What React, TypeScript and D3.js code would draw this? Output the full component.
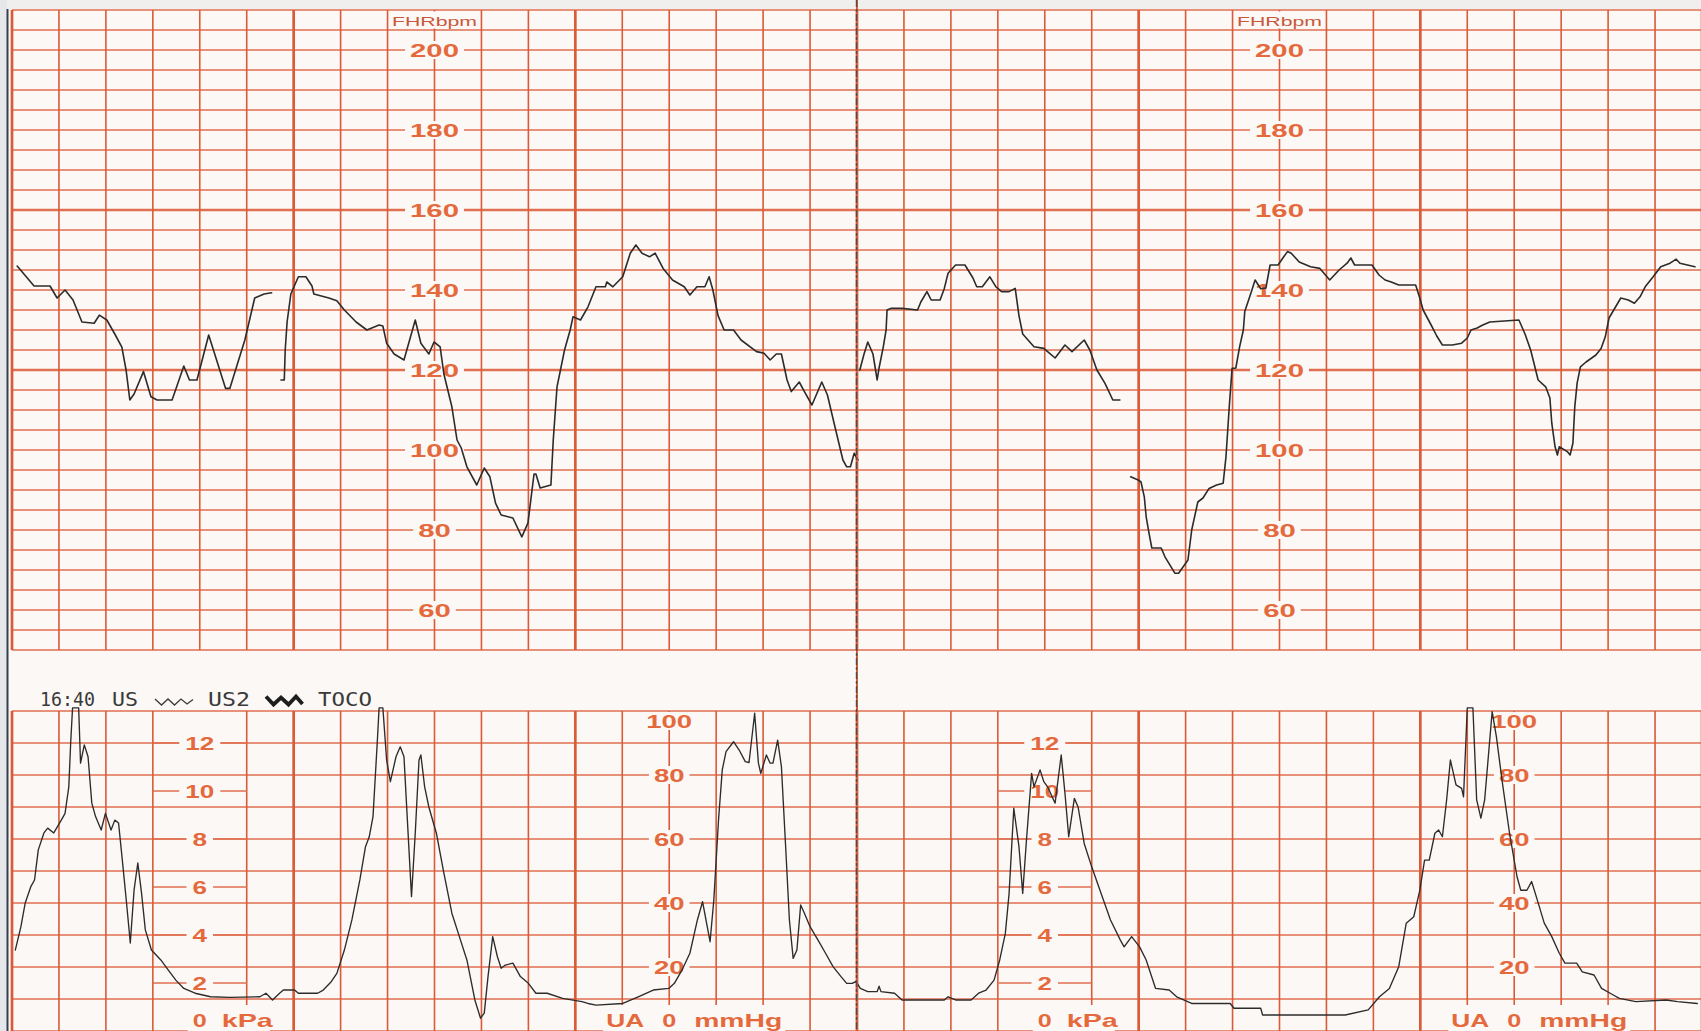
import React from "react";
import * as d3 from "d3";

const W = 1701;
const H = 1031;

// ---- FHR trace (time in seconds, value in bpm); gaps = signal loss ----
const fhrSegment1: [number, number][] = [
  [1.1,146],[4.7,141],[8.1,141],[9.6,138],[11.3,140],[13,137.5],[14.9,132],[17.5,131.7],[18.6,133.7],[20.2,132.5],
  [21.9,129],[23.4,125.7],[24.3,120],[25.1,112.5],[26,114],[28,119.6],[29.6,113.3],[30.9,112.5],[34.1,112.5],[36.6,121],
  [37.8,117.5],[39.4,117.5],[41.9,128.75],[45.5,115.4],[46.4,115.4],[49.6,127.5],[51.7,138],[53.7,139],[55.3,139.3],
];
const fhrSegment2: [number, number][] = [
  [57.3,117.5],[58,117.5],[58.2,125],[58.6,132],[59.4,139],[61,143.3],[62.6,143.3],[63.9,141],[64.3,139],[67.5,138],
  [69.2,137.3],[70.8,135],[73.3,132],[75.6,130],[78.2,131.25],[79,131],[79.8,126.7],[81.4,124],[83.5,122.5],[84.7,127.5],
  [85.9,132.5],[87.1,126.7],[88.8,124],[89.9,127],[91.2,125.8],[92,119],[93.7,110.8],[94.8,102.5],[95.7,100.5],[96.9,95.8],
  [99,91.25],[100.6,95.5],[101.8,93.3],[103,86.7],[104.2,83.75],[106.7,83],[108.6,78.3],[109.9,81.7],[111.2,94],[111.6,94],
  [112.5,90.5],[114.8,91.25],[115.3,102.5],[116.1,115.8],[117.7,125],[118.9,130],[119.5,133.3],[121.1,132.5],[122.7,135.8],[124.4,140.8],
  [126.4,140.8],[126.7,142],[128,140.8],[130.1,143.3],[131.7,149.2],[132.9,151.25],[134.2,149.2],[135.8,148.3],[137,149.2],[138.7,145.4],
  [140.7,142.5],[143.2,140.8],[144.4,138.75],[145.9,140.8],[147.6,140.8],[148.5,143.3],[149.3,140],[150.4,133.6],[151.7,130],[153.7,130],
  [155.3,127.5],[158.6,124.6],[160.2,124.2],[161.5,122.5],[162.8,124],[163.9,124],[165.1,117.5],[166,114.6],[167.7,117],[168.8,114.6],
  [170.4,111.25],[172.5,117],[173.7,113.75],[175.3,105.8],[177,97.5],[177.8,95.8],[178.6,95.8],[179.4,99.2],[180.2,97.5],
];
const fhrSegment3: [number, number][] = [
  [180.6,120],[181.5,124],[182.3,127],[183.4,124],[184.3,117.5],[184.7,120.5],[185.6,125.8],[186.2,130],[186.4,135],[187.2,135.4],
  [189.6,135.4],[192.9,135],[193.6,137],[194.9,139.6],[195.8,137.5],[197.7,137.5],[198.6,140.4],[199.4,144.2],[201,146.25],[203,146.25],
  [204.7,143],[205.5,140.8],[206.7,140.8],[208.3,143.3],[209.6,140.8],[210.8,139.6],[212.4,139.6],[213.7,140.4],[214.5,133.6],[215.3,129],
  [217.7,125.8],[219.8,125.4],[220.6,124.6],[222.2,123],[224.3,126.25],[225.8,124.6],[228.4,127.5],[229.6,125],[231.1,120],[232.8,116.7],
  [234.5,112.5],[236,112.5],
];
const fhrSegment4: [number, number][] = [
  [238.3,93.3],[239.9,92.5],[240.5,92],[241.2,88.3],[241.6,83.3],[242.2,79.2],[242.8,75.5],[244.8,75.5],[245.6,73.3],[246.9,70.8],
  [247.7,69.2],[248.5,69.2],[249.3,70.5],[250.5,72.5],[251.3,80],[252.6,87],[253.7,88],[255,90.4],[256.6,91.25],[258,91.7],
  [258.6,98.3],[259.3,110.8],[259.9,120.4],[260.7,120.5],[261.5,125.8],[262.3,130],[262.6,134.6],[263.9,139.2],[264.8,142.5],[266,140.3],
  [267.1,140.5],[268,146.25],[269.7,146.25],[270.9,148.3],[271.7,149.6],[272.5,149.2],[274.2,147],[276.6,145.8],[278.6,145.4],[280.7,142.5],
  [282.7,145],[284.4,146.7],[285.2,148],[286,146.25],[289.7,146.25],[291.2,143.75],[292.5,142.5],[293.8,142],[295.4,141.25],[299,141.25],
  [299.8,138.3],[300.6,135],[302.3,131.25],[303.5,128.5],[304.7,126.25],[306.8,126.25],[308.8,126.7],[310,128],[310.8,130],[312.1,130.5],
  [313.3,131.25],[314.8,132],[321,132.5],[322.3,129],[323.5,125],[325.1,117.5],[326.7,115.8],[327.6,113],[328,106.7],[328.7,100.8],
  [329.2,98.75],[329.6,100.8],[331.3,99.6],[331.9,98.75],[332.5,101.7],[332.9,110.8],[333.4,116.7],[334.1,120.8],[335.3,122],[337.4,123.75],
  [338.5,125.4],[339.4,128.3],[340.2,133],[342.7,138],[344.3,137.5],[345.6,136.7],[346.8,138.3],[347.9,140.8],[349.6,143.3],[351.2,145.8],
  [353.2,146.7],[354.5,147.7],[355.3,146.7],[358.5,145.8],
];

// ---- TOCO / UA trace (time in seconds, value in mmHg) ----
const tocoTrace: [number, number][] = [
  [0.7,25.3],[1.9,32.6],[2.8,39.9],[4,45.1],[4.8,47.2],[5.6,56.6],[6.8,61.9],[7.6,63.4],[8.9,61.9],[10.5,65.9],
  [11.3,68],[12.1,76.3],[12.5,90],[12.9,101],[14.2,101],[14.6,83.7],[15.4,89.4],[16.2,85.7],[17,71.2],[17.8,67],
  [19,62.8],[19.9,68],[21.1,62.8],[21.9,65.9],[22.7,65],[23.5,53.4],[24.4,40],[25.2,27.5],[26,44],[26.8,52.5],
  [27.6,43],[28.4,31.6],[29.7,25.3],[31.7,22.2],[33.3,19],[34.9,15.9],[36.6,13.3],[39,11.8],[42.3,10.7],[46.4,10.5],
  [52.8,10.7],[54.1,11.8],[55.5,9.7],[57,11.8],[57.8,12.8],[60.2,12.8],[61,11.8],[65.1,11.8],[66.3,12.8],[68,15.4],
  [69.2,18],[70.8,25.3],[72.4,34.7],[74.1,47.2],[75.3,57.6],[76.1,60.7],[76.9,67],[77.8,90],[78.2,101],[79,101],
  [79.8,84.7],[80.6,77.9],[81.8,85.7],[82.7,88.8],[83.5,85.7],[84.3,63.8],[85.1,42],[85.9,61.8],[86.7,84.7],[87.1,86.25],
  [87.9,76.3],[88.8,70],[90.4,61.8],[92,49.3],[93.7,36.8],[95.3,29.5],[96.9,22.2],[98.6,9.7],[99.8,4],[100.6,5.6],
  [101.4,17],[102.4,29.5],[103.4,23.2],[104.2,19.6],[105.1,20.6],[106.7,21.2],[108.3,17],[110,14.9],[111.6,11.8],[114,11.8],
  [117.3,10.2],[121.4,9.2],[122.7,8.6],[124.4,8.1],[130.1,8.6],[133.4,10.7],[136.6,12.8],[139.9,13.3],[141.1,14.9],[142.7,19],
  [144.4,24.3],[146,34.7],[147.1,40.4],[148.1,32.6],[148.7,27.9],[149.5,40.9],[150.5,65.9],[151.3,81.6],[152.1,87.3],[153.7,90.4],
  [154.9,87.8],[156.2,84.2],[157,83.9],[158.2,99.3],[159,83.7],[159.5,80.5],[160.7,86.25],[161.5,83.7],[162.1,83.7],[163.1,90.9],
  [163.9,82.6],[164.8,57.6],[165.6,34.7],[166.4,22.7],[167.2,25.3],[168,39.4],[168.8,36.8],[170,32.6],[171.7,28.4],[173.3,24.3],
  [174.9,20.1],[176.6,17],[177.8,14.9],[179,14.9],[179.8,15.5],[180.7,13.3],[182.3,12.3],[184.3,12.3],[184.7,14],[185.1,12.3],
  [188,11.8],[189.6,9.7],[198.6,9.7],[199.4,10.7],[201,9.7],[204.3,9.7],[205.9,11.8],[207.5,12.8],[209.2,15.9],[210.4,22.2],
  [211.6,30.5],[212.4,43],[213.4,69.6],[214.5,57.6],[215.3,43],[216.1,59.7],[217.2,80.5],[217.7,76.3],[219,81.6],[219.8,77.9],
  [220.6,76.3],[222.2,71.2],[223.5,86.25],[224.3,74.3],[225.1,60.7],[226.3,72.7],[227.1,70],[228.4,58.6],[230,51.3],[232,43],
  [234,34.7],[236.1,28.4],[236.9,26.3],[238.5,29.5],[240.2,26.3],[241.6,22.2],[243.6,13.3],[246.5,12.8],[248.1,10.7],[251.3,8.6],
  [259.5,8.6],[260.3,7.1],[266,7.1],[266.4,5],[284,5],[288.9,6.6],[291.3,10.7],[293.4,13.3],[295.4,20.1],[297,33.7],
  [298.6,35.7],[299.9,44],[300.9,53.4],[301.9,53.4],[303.1,61.8],[303.9,62.8],[304.7,60.7],[305.6,72.2],[306.4,84.7],[307.6,76.9],
  [308.8,75.8],[309.2,73.2],[310,101],[311.2,101],[312,72.2],[312.9,66.5],[313.7,72.2],[315.3,99.8],[316.2,92],[317.4,78.4],
  [319,61.8],[320.6,48.2],[321.4,44],[322.7,44],[323.7,46.7],[324.7,42],[326.4,33.7],[328,29.5],[329.6,24.3],[330.8,21.2],
  [333.3,21.2],[334.5,18.5],[337,17.5],[338.6,13.3],[341.1,11.25],[342.4,10.2],[345.9,9.2],[352.4,9.7],[354.8,9.2],[359,8.6],
];

// ---- axes / tick labels ----
const fhrTicks = [60, 80, 100, 120, 140, 160, 180, 200];
const fhrBoldLines = [120, 160];
const kpaTicks = [2, 4, 6, 8, 10, 12];
const mmHgTicks = [20, 40, 60, 80, 100];
const fhrAxisTimes = [90, 270];
const kpaAxisTimes = [40, 220];
const mmHgAxisTimes = [140, 320];
const foldTime = 180;
const headerWords = ["16:40", "US", "US2", "TOCO"];
const fhrTitle = "FHRbpm";
const kpaUnit = "kPa";
const uaPrefix = "UA";
const mmHgUnit = "mmHg";

const GRID_V = "#da5b38";
const GRID_H = "#e06f50";
const LABEL = "#e46a3d";
const PAPER = "#fcf8f6";
const INK = "#2c2c2c";
const LABEL_FONT = "'Liberation Sans', Arial, sans-serif";

export default function App() {
  React.useEffect(() => {
    document.body.style.margin = "0";
  }, []);

  const x = d3.scaleLinear().domain([0, 360]).range([12, 1702]);
  const yF = d3.scaleLinear().domain([50, 210]).range([650, 10]);
  const yT = d3.scaleLinear().domain([0, 100]).range([1031, 711]);
  const kpaToMmHg = (k: number) => k * 7.50062;

  const fhrLine = d3
    .line<[number, number]>()
    .x((d) => x(d[0]))
    .y((d) => yF(d[1]))
    .curve(d3.curveLinear);
  const tocoLine = d3
    .line<[number, number]>()
    .x((d) => x(d[0]))
    .y((d) => yT(d[1]))
    .curve(d3.curveLinear);

  const timeTicks = d3.range(0, 361, 10);
  const fhrLines = d3.range(50, 211, 5);
  const tocoLines = d3.range(0, 101, 10);

  const digitW = 16.3;
  const numW = (v: number) => String(v).length * digitW;

  const fhrTop = yF(210);
  const fhrBottom = yF(50);
  const tocoTop = yT(100);
  const tocoBottom = yT(0);

  return (
    <svg
      width={W}
      height={H}
      viewBox={`0 0 ${W} ${H}`}
      style={{ position: "absolute", left: 0, top: 0, display: "block" }}
    >
      <rect x={0} y={0} width={W} height={H} fill={PAPER} />
      <rect x={0} y={0} width={W} height={9} fill="#f1efee" />

      {/* FHR panel grid */}
      <g>
        {fhrLines.map((v) => (
          <line
            key={"fh" + v}
            x1={x(0)}
            x2={W}
            y1={yF(v)}
            y2={yF(v)}
            stroke={GRID_H}
            strokeWidth={fhrBoldLines.includes(v) ? 2.3 : 1.4}
          />
        ))}
        {timeTicks.map((t) => (
          <line
            key={"fv" + t}
            x1={x(t)}
            x2={x(t)}
            y1={fhrTop}
            y2={fhrBottom}
            stroke={GRID_V}
            strokeWidth={t % 60 === 0 ? 2.7 : 1.6}
          />
        ))}
      </g>

      {/* TOCO panel grid */}
      <g>
        {tocoLines.map((v) => (
          <line
            key={"th" + v}
            x1={x(0)}
            x2={W}
            y1={yT(v)}
            y2={yT(v)}
            stroke={GRID_H}
            strokeWidth={1.4}
          />
        ))}
        {timeTicks
          .filter((t) => !kpaAxisTimes.includes(t))
          .map((t) => (
            <line
              key={"tv" + t}
              x1={x(t)}
              x2={x(t)}
              y1={tocoTop}
              y2={tocoBottom}
              stroke={GRID_V}
              strokeWidth={t % 60 === 0 ? 2.7 : 1.6}
            />
          ))}
      </g>

      {/* FHR axis labels */}
      {fhrAxisTimes.map((t) => {
        const cx = x(t);
        return (
          <g key={"fa" + t}>
            <rect
              x={x(t - 10) + 1.5}
              y={fhrTop + 1.5}
              width={x(t + 10) - x(t - 10) - 3}
              height={yF(205) - fhrTop - 3}
              fill={PAPER}
            />
            <text
              x={cx}
              y={26}
              textAnchor="middle"
              fontFamily={LABEL_FONT}
              fontSize={13}
              fill="#c9583c"
              textLength={85}
              lengthAdjust="spacingAndGlyphs"
            >
              {fhrTitle}
            </text>
            {fhrTicks.map((v) => {
              const w = numW(v);
              return (
                <g key={"fl" + v}>
                  <rect x={cx - w / 2 - 5} y={yF(v) - 9} width={w + 10} height={18} fill={PAPER} />
                  <text
                    x={cx}
                    y={yF(v) + 7}
                    textAnchor="middle"
                    fontFamily={LABEL_FONT}
                    fontWeight="bold"
                    fontSize={19}
                    fill={LABEL}
                    textLength={w}
                    lengthAdjust="spacingAndGlyphs"
                  >
                    {v}
                  </text>
                </g>
              );
            })}
          </g>
        );
      })}

      {/* kPa axis labels */}
      {kpaAxisTimes.map((t) => {
        const cx = x(t);
        return (
          <g key={"ka" + t}>
            {kpaTicks.map((k) => {
              const yy = yT(kpaToMmHg(k));
              const w = String(k).length * 14.5;
              return (
                <g key={"kl" + k}>
                  <line x1={x(t - 10)} x2={x(t + 10)} y1={yy} y2={yy} stroke={GRID_H} strokeWidth={1.4} />
                  <rect x={cx - w / 2 - 6} y={yy - 9} width={w + 12} height={18} fill={PAPER} />
                  <text
                    x={cx}
                    y={yy + 7}
                    textAnchor="middle"
                    fontFamily={LABEL_FONT}
                    fontWeight="bold"
                    fontSize={19}
                    fill={LABEL}
                    textLength={w}
                    lengthAdjust="spacingAndGlyphs"
                  >
                    {k}
                  </text>
                </g>
              );
            })}
            <rect x={cx - 12} y={1005} width={82} height={26} fill={PAPER} />
            <text
              x={cx}
              y={1027}
              textAnchor="middle"
              fontFamily={LABEL_FONT}
              fontWeight="bold"
              fontSize={19}
              fill={LABEL}
              textLength={14}
              lengthAdjust="spacingAndGlyphs"
            >
              0
            </text>
            <text
              x={cx + 22}
              y={1027}
              fontFamily={LABEL_FONT}
              fontWeight="bold"
              fontSize={19}
              fill={LABEL}
              textLength={51}
              lengthAdjust="spacingAndGlyphs"
            >
              {kpaUnit}
            </text>
          </g>
        );
      })}

      {/* mmHg axis labels */}
      {mmHgAxisTimes.map((t) => {
        const cx = x(t);
        return (
          <g key={"ma" + t}>
            {mmHgTicks.map((m) => {
              const w = String(m).length * 15.3;
              const yc = Math.max(yT(m), tocoTop + 10);
              return (
                <g key={"ml" + m}>
                  <rect x={cx - w / 2 - 5} y={yc - 9} width={w + 10} height={18} fill={PAPER} />
                  <text
                    x={cx}
                    y={yc + 7}
                    textAnchor="middle"
                    fontFamily={LABEL_FONT}
                    fontWeight="bold"
                    fontSize={19}
                    fill={LABEL}
                    textLength={w}
                    lengthAdjust="spacingAndGlyphs"
                  >
                    {m}
                  </text>
                </g>
              );
            })}
            <rect x={cx - 66} y={1005} width={182} height={26} fill={PAPER} />
            <text
              x={cx - 25}
              y={1027}
              textAnchor="end"
              fontFamily={LABEL_FONT}
              fontWeight="bold"
              fontSize={19}
              fill={LABEL}
              textLength={38}
              lengthAdjust="spacingAndGlyphs"
            >
              {uaPrefix}
            </text>
            <text
              x={cx}
              y={1027}
              textAnchor="middle"
              fontFamily={LABEL_FONT}
              fontWeight="bold"
              fontSize={19}
              fill={LABEL}
              textLength={14}
              lengthAdjust="spacingAndGlyphs"
            >
              0
            </text>
            <text
              x={cx + 25}
              y={1027}
              fontFamily={LABEL_FONT}
              fontWeight="bold"
              fontSize={19}
              fill={LABEL}
              textLength={88}
              lengthAdjust="spacingAndGlyphs"
            >
              {mmHgUnit}
            </text>
          </g>
        );
      })}

      {/* header line */}
      <g fontFamily="'DejaVu Sans Mono', monospace" fontSize={19} fill="#3a3a3a">
        <text x={40} y={706} textLength={55} lengthAdjust="spacingAndGlyphs">{headerWords[0]}</text>
        <text x={112} y={706} textLength={26} lengthAdjust="spacingAndGlyphs">{headerWords[1]}</text>
        <path
          d="M155,699 L161.5,705 L168,699 L174.5,705 L181,699 L187,704 L193,699.5"
          fill="none"
          stroke="#3a3a3a"
          strokeWidth={1.3}
        />
        <text x={208} y={706} textLength={42} lengthAdjust="spacingAndGlyphs">{headerWords[2]}</text>
        <path
          d="M266,696.5 L273.5,704.5 L281,697.5 L288.5,704.5 L296,696.5 L302.5,704"
          fill="none"
          stroke="#1e1e1e"
          strokeWidth={3.8}
          strokeLinejoin="miter"
        />
        <text x={318} y={706} textLength={54} lengthAdjust="spacingAndGlyphs">{headerWords[3]}</text>
      </g>

      {/* traces */}
      <g fill="none" stroke={INK} strokeLinejoin="round" strokeLinecap="round">
        {[fhrSegment1, fhrSegment2, fhrSegment3, fhrSegment4].map((seg, i) => (
          <path key={"fhr" + i} d={fhrLine(seg) || ""} strokeWidth={1.6} />
        ))}
        <path d={tocoLine(tocoTrace) || ""} strokeWidth={1.35} />
      </g>

      {/* paper fold */}
      <line x1={x(foldTime)} x2={x(foldTime)} y1={0} y2={H} stroke={GRID_V} strokeWidth={2} />
      <line
        x1={x(foldTime) - 0.5}
        x2={x(foldTime) - 0.5}
        y1={0}
        y2={H}
        stroke="#4d4d4d"
        strokeWidth={1.4}
        strokeDasharray="7 2 3 2"
      />

      {/* scan edge */}
      <rect x={0} y={0} width={7} height={H} fill="#e6e7ea" />
      <line x1={7.5} x2={7.5} y1={9} y2={H} stroke="#34404f" strokeWidth={2} />
    </svg>
  );
}
